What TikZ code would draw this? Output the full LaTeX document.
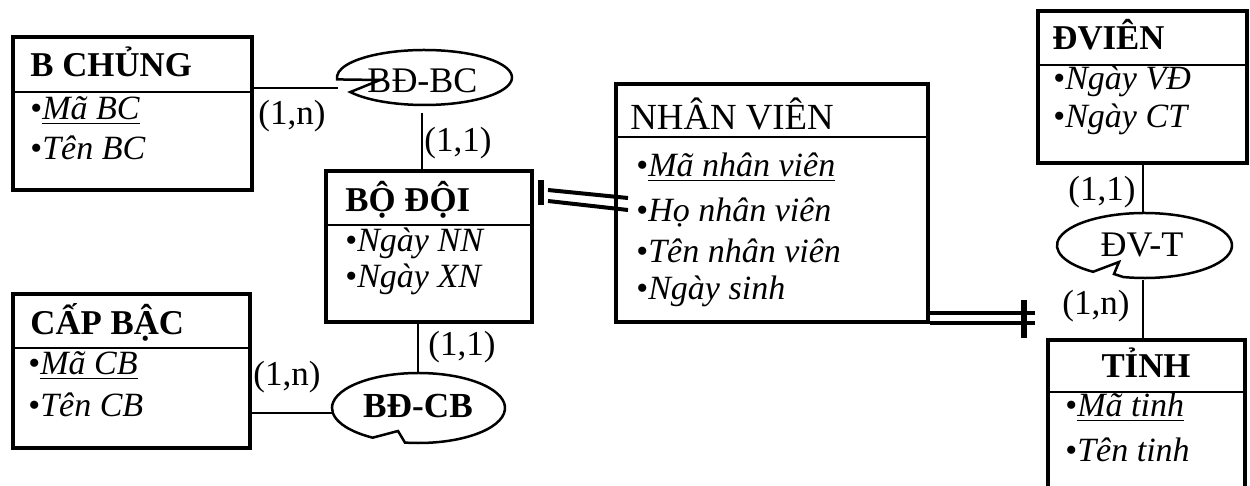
\documentclass[tikz,border=0pt]{standalone}
\usepackage{fontspec}
\setmainfont{Liberation Serif}
\usetikzlibrary{fit,calc}
% oval with a folded-in notch: centre, x radius, y radius, start/end angle, notch path
\newcommand\notchoval[6]{%
  \draw[rel] ($(#1)+(#4:#2 and #3)$) arc[start angle=#4, end angle=#5+360, x radius=#2, y radius=#3] #6 -- cycle;}
\begin{document}
\begin{tikzpicture}[x=0.5pt,y=-0.5pt,
  ebox/.style={draw, line width=2.3pt, inner sep=0pt},
  hline/.style={line width=1.1pt},
  link/.style={line width=0.9pt},
  rel/.style={line width=1.25pt},
  dbl/.style={line width=2pt},
  bar/.style={line width=3pt},
  txt/.style={anchor=base west, inner sep=0pt, font=\fontsize{17}{20}\selectfont},
  hd/.style={txt, font=\fontsize{17.4}{20}\selectfont\bfseries},
  item/.style={txt},
  card/.style={txt, font=\fontsize{17.5}{20}\selectfont},
  rtext/.style={anchor=base, inner sep=0pt, font=\fontsize{18}{20}\selectfont},
]
\clip (0,0) rectangle (1250,486);

% entity boxes
\node[ebox, fit={(13,37) (252,190)}] (bchung) {};
\node[ebox, fit={(326,171) (532,322)}] (bodoi) {};
\node[ebox, fit={(13,294) (250,448)}] (capbac) {};
\node[ebox, fit={(616,84) (928,322)}] (nhanvien) {};
\node[ebox, fit={(1038,11) (1247,163)}] (dvien) {};
\node[ebox, fit={(1048,340) (1245,520)}] (tinh) {};

% header separators
\draw[hline] (bchung.west |- 0,92) -- (bchung.east |- 0,92);
\draw[hline] (bodoi.west |- 0,225) -- (bodoi.east |- 0,225);
\draw[hline] (capbac.west |- 0,348) -- (capbac.east |- 0,348);
\draw[hline] (nhanvien.west |- 0,137) -- (nhanvien.east |- 0,137);
\draw[hline] (dvien.west |- 0,65) -- (dvien.east |- 0,65);
\draw[hline] (tinh.west |- 0,392) -- (tinh.east |- 0,392);

% entity titles
\node[hd] (bchungT) at (30,77) {B CHỦNG};
\node[hd] (bodoiT) at (345,212) {BỘ ĐỘI};
\node[hd] (capbacT) at (30,335) {CẤP BẬC};
\node[txt, font=\fontsize{18.4}{20}\selectfont] (nhanvienT) at (630,130) {NHÂN VIÊN};
\node[hd] (dvienT) at (1052,50) {ĐVIÊN};
\node[hd, anchor=base] (tinhT) at (1146,378) {TỈNH};

% attributes
\node[item] (bc1) at (30,120) {•\underline{\textit{Mã BC}}};
\node[item] (bc2) at (30,160) {•\textit{Tên BC}};
\node[item] (bd1) at (345,252) {•\textit{Ngày NN}};
\node[item] (bd2) at (345,288) {•\textit{Ngày XN}};
\node[item] (cb1) at (28,375) {•\underline{\textit{Mã CB}}};
\node[item] (cb2) at (28,417) {•\textit{Tên CB}};
\node[item] (nv1) at (636,177) {•\underline{\textit{Mã nhân viên}}};
\node[item] (nv2) at (636,222) {•\textit{Họ nhân viên}};
\node[item] (nv3) at (636,263) {•\textit{Tên nhân viên}};
\node[item] (nv4) at (636,300) {•\textit{Ngày sinh}};
\node[item] (dv1) at (1053,90) {•\textit{Ngày VĐ}};
\node[item] (dv2) at (1053,128) {•\textit{Ngày CT}};
\node[item] (ti1) at (1065,417) {•\underline{\textit{Mã tinh}}};
\node[item] (ti2) at (1065,462) {•\textit{Tên tinh}};

% relationships
\coordinate (bdbcC) at (424.5,77.5);
\coordinate (bdcbC) at (418.5,408);
\coordinate (dvtC) at (1144.5,245.5);
\notchoval{bdbcC}{43.75pt}{13.75pt}{212}{184}{-- (380,80)}
\notchoval{bdcbC}{43.25pt}{17.5pt}{261}{238}{-- (398,431)}
\notchoval{dvtC}{43.75pt}{16.25pt}{256}{234}{-- (1119,262) -- (1114,274)}
\node[rtext] (bdbc) at (422.5,93) {BĐ-BC};
\node[rtext, font=\fontsize{17.6}{20}\selectfont\bfseries] (bdcb) at (418,418) {BĐ-CB};
\node[rtext] (dvt) at (1142,257) {ĐV-T};

% connector end points on the ovals
\coordinate (bdbcL) at (338,88);
\coordinate (bdbcB) at (422,113);
\coordinate (bdcbT) at (418,373);
\coordinate (bdcbL) at (332,413);
\coordinate (dvtT) at (1143,213);
\coordinate (dvtB) at (1143,280);

\draw[link] (bchung.east |- bdbcL) -- (bdbcL);
\draw[link] (bdbcB) -- (bdbcB |- bodoi.north);
\draw[link] (bdcbT |- bodoi.south) -- (bdcbT);
\draw[link] (capbac.east |- bdcbL) -- (bdcbL);
\draw[link] (dvtT |- dvien.south) -- (dvtT);
\draw[link] (dvtB) -- (dvtB |- tinh.north);

% cardinalities
\node[card] (c1) at (258,125) {(1,n)};
\node[card] (c2) at (424,152) {(1,1)};
\node[card] (c3) at (428,356) {(1,1)};
\node[card] (c4) at (253,386) {(1,n)};
\node[card] (c5) at (1068,201) {(1,1)};
\node[card] (c6) at (1062,315) {(1,n)};

% BỘ ĐỘI -- NHÂN VIÊN double link
\coordinate (pA1) at (548,190); \coordinate (pA2) at (628,198);
\coordinate (pB1) at (548,201); \coordinate (pB2) at (628,210);
\coordinate (pT) at (541,180); \coordinate (pD) at (541,205);
\draw[dbl] (pA1) -- (pA2);
\draw[dbl] (pB1) -- (pB2);
\draw[bar] (pT) -- (pD);

% NHÂN VIÊN -- TỈNH double link
\coordinate (qA) at (1035,313); \coordinate (qB) at (1035,323);
\coordinate (qT) at (1024,300); \coordinate (qD) at (1024,338);
\draw[dbl] (nhanvien.east |- qA) -- (qA);
\draw[dbl] (nhanvien.east |- qB) -- (qB);
\draw[bar] (qT) -- (qD);
\end{tikzpicture}
\end{document}
